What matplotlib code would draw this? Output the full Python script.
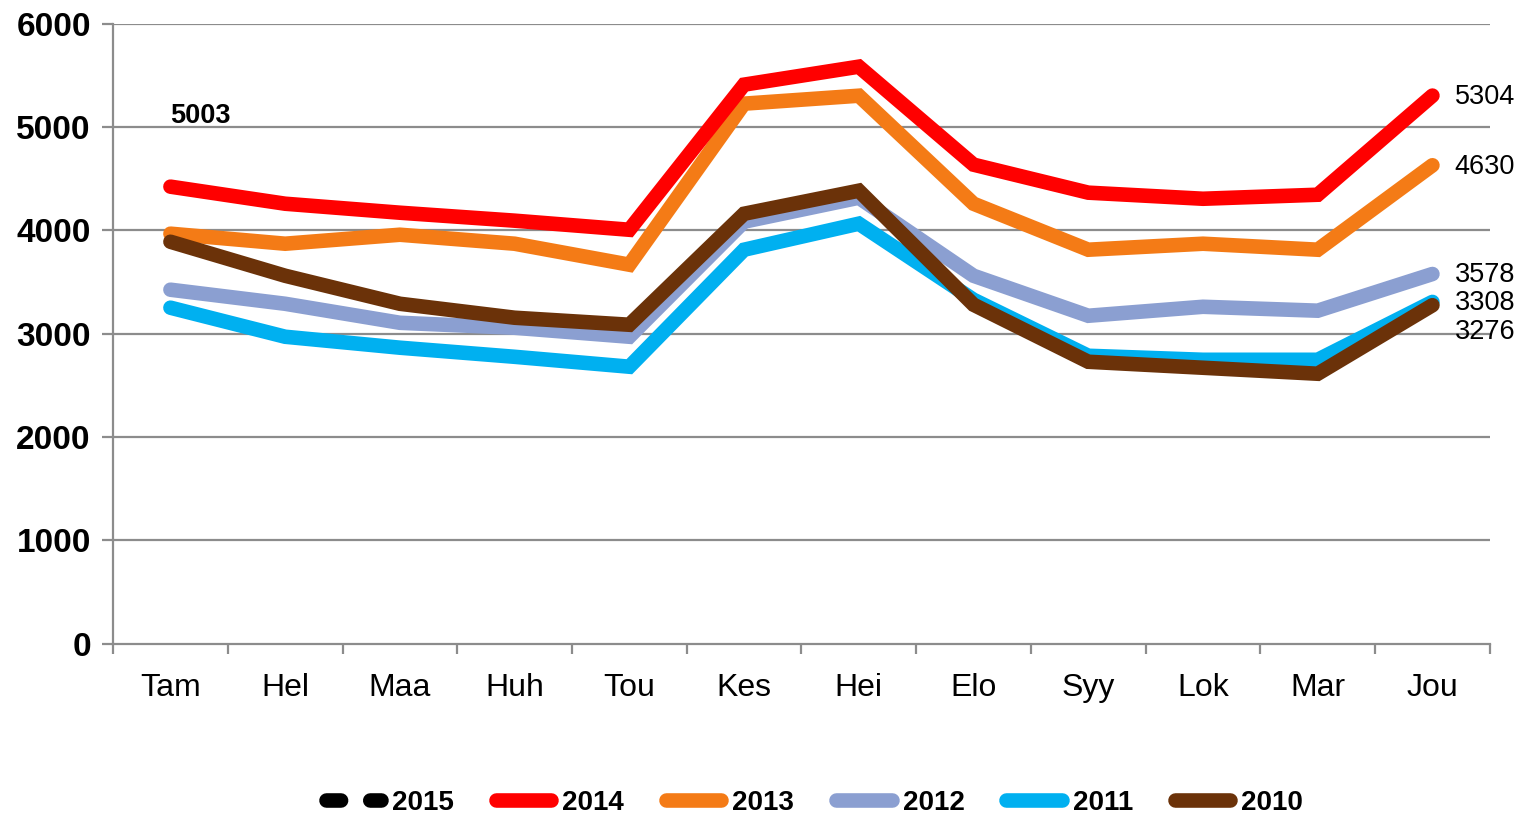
import numpy as np
import matplotlib.pyplot as plt
from matplotlib.lines import Line2D

plt.rcParams['font.family'] = ['Liberation Sans', 'DejaVu Sans']

months = ['Tam', 'Hel', 'Maa', 'Huh', 'Tou', 'Kes', 'Hei', 'Elo', 'Syy', 'Lok', 'Mar', 'Jou']

y2015 = [5003] + [np.nan] * 11
y2014 = [4423, 4258, 4171, 4094, 4006, 5410, 5584, 4636, 4365, 4306, 4345, 5304]
y2013 = [3968, 3871, 3958, 3871, 3668, 5226, 5303, 4258, 3813, 3871, 3813, 4630]
y2012 = [3426, 3290, 3106, 3058, 2971, 4084, 4316, 3561, 3174, 3261, 3223, 3578]
y2011 = [3252, 2971, 2865, 2777, 2681, 3813, 4065, 3329, 2787, 2748, 2748, 3308]
y2010 = [3890, 3561, 3290, 3155, 3087, 4161, 4384, 3281, 2729, 2671, 2613, 3276]

series = [
    ('2015', y2015, 'black'),
    ('2014', y2014, '#ff0000'),
    ('2013', y2013, '#f47b16'),
    ('2012', y2012, '#8b9fd1'),
    ('2011', y2011, '#00b0f0'),
    ('2010', y2010, '#6b3209'),
]

fig = plt.figure(figsize=(15.28, 8.16), dpi=100)
ax = fig.add_axes([0.074, 0.211, 0.901, 0.760])

x = np.arange(len(months))
grid_c = '#8c8c8c'
for yv in range(1000, 7000, 1000):
    ax.axhline(yv, color=grid_c, lw=1.6, zorder=0)

lw = 10.5
zorders = {'2015': 3, '2014': 5, '2013': 4, '2012': 3, '2011': 3.5, '2010': 6}
handles = []
for name, vals, col in series:
    ax.plot(x, vals, color=col, lw=lw, solid_capstyle='round',
            solid_joinstyle='miter', zorder=zorders[name])
    if name == '2015':
        h = Line2D([], [], color=col, lw=lw, linestyle=(0, (1.0, 2.0)),
                   dash_capstyle='round')
    else:
        h = Line2D([], [], color=col, lw=lw, solid_capstyle='round')
    handles.append(h)

# data labels
ax.annotate(str(y2015[0]), (0, y2015[0]), xytext=(0, -2), textcoords='offset points',
            ha='left', va='bottom', fontsize=19.5, fontweight='bold')
offsets = {'2014': -1, '2013': -1, '2012': -1, '2011': -1, '2010': -19}
for name, vals, col in series[1:]:
    ax.annotate(str(vals[-1]), (11, vals[-1]), xytext=(16, offsets[name]),
                textcoords='offset points', ha='left', va='center', fontsize=19.5)

ax.set_xlim(-0.5, 11.5)
ax.set_ylim(0, 6000)
ax.set_yticks(range(0, 7000, 1000))
ax.set_xticks(x)
ax.set_xticklabels(months, fontsize=23)
ax.set_xticks(np.arange(-0.5, 12, 1), minor=True)
ax.tick_params(axis='x', which='major', length=0, pad=21)
ax.tick_params(axis='x', which='minor', length=7, width=1.6, color=grid_c)
ax.tick_params(axis='y', length=8, width=1.6, color=grid_c, labelsize=24, pad=8)
for lab in ax.get_yticklabels():
    lab.set_fontweight('bold')

for s in ['top', 'right']:
    ax.spines[s].set_visible(False)
for s in ['left', 'bottom']:
    ax.spines[s].set_color(grid_c)
    ax.spines[s].set_linewidth(1.6)

fig.legend(handles, [s[0] for s in series], loc='center', bbox_to_anchor=(0.533, 0.016),
           ncol=6, frameon=False, handlelength=2.0, handletextpad=0.4,
           columnspacing=1.5, prop={'weight': 'bold', 'size': 20})

fig.savefig('out.png', dpi=100)
